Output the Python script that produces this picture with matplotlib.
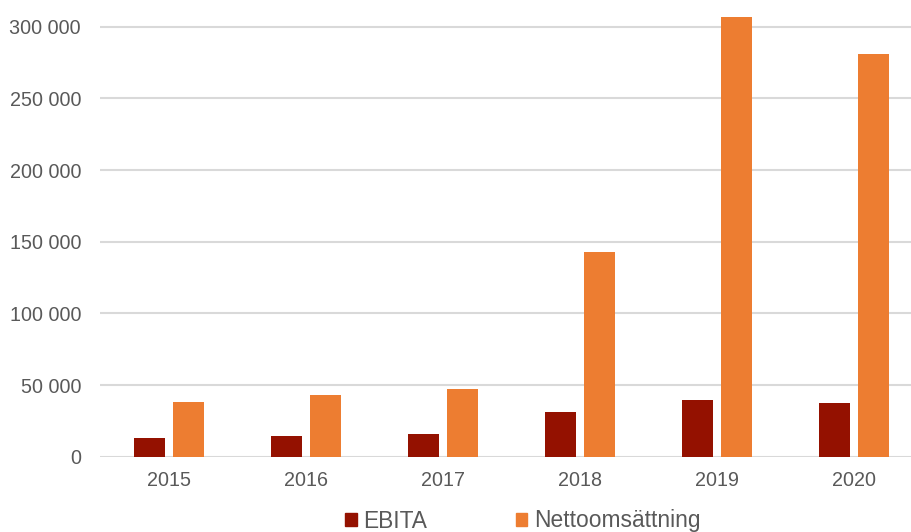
import numpy as np
import matplotlib
matplotlib.use("Agg")
import matplotlib.pyplot as plt
from matplotlib.patches import Patch
from matplotlib.ticker import FuncFormatter

years = ["2015", "2016", "2017", "2018", "2019", "2020"]
ebita = [12800, 14700, 15800, 31200, 39300, 37300]
netto = [38200, 43000, 47200, 143000, 307000, 281000]

c_ebita = "#941100"
c_netto = "#ED7D31"
grey = "#595959"

plt.rcParams['font.family'] = ['Liberation Sans', 'DejaVu Sans']

fig = plt.figure(figsize=(9.12, 5.32), dpi=100)
# plot area runs past the right and top edges (the reference is cropped)
left = 100.5 / 912
bottom = (532 - 456.7) / 532
width = 822 / 912
height = (430 * 350 / 300) / 532
ax = fig.add_axes([left, bottom, width, height])

x = np.arange(len(years))
bw = 0.23
off = 0.144
ax.bar(x - off, ebita, bw, color=c_ebita, zorder=3)
ax.bar(x + off, netto, bw, color=c_netto, zorder=3)

ax.set_xlim(-0.5, len(years) - 0.5)
ax.set_ylim(0, 350000)
ax.set_yticks(np.arange(0, 300001, 50000))
ax.yaxis.set_major_formatter(FuncFormatter(lambda v, p: f"{int(v):,}".replace(",", " ")))
ax.set_xticks(x)
ax.set_xticklabels(years)

ax.grid(axis='y', color='#d9d9d9', linewidth=1.5, zorder=0)
for s in ax.spines.values():
    s.set_visible(False)
ax.tick_params(axis='both', length=0, labelsize=14.2, colors=grey)
ax.tick_params(axis='y', pad=14)
ax.tick_params(axis='x', pad=10)

handles = [Patch(color=c_ebita, label="EBITA"), Patch(color=c_netto, label="Nettoomsättning")]
leg = fig.legend(handles=handles, loc='center', bbox_to_anchor=(523 / 912, (532 - 521) / 532),
                 ncol=2, frameon=False, fontsize=16.4, handlelength=0.5, handleheight=0.5,
                 handletextpad=0.3, columnspacing=3.9, borderpad=0)
for t in leg.get_texts():
    t.set_color(grey)

fig.savefig("out.png", dpi=100)
